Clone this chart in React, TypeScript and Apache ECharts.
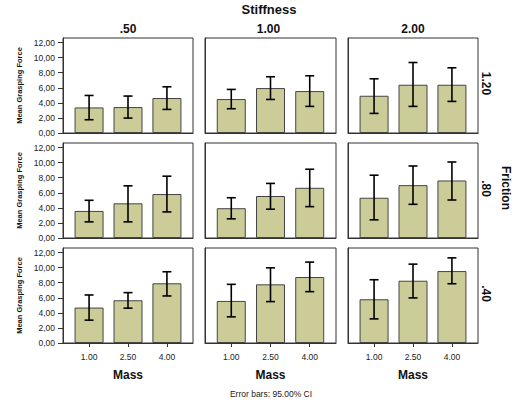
import React, { useEffect, useRef } from "react";
import * as echarts from "echarts";

const massLabels = ["1.00", "2.50", "4.00"];
const stiffnessLabels = [".50", "1.00", "2.00"];
const frictionLabels = ["1.20", ".80", ".40"];
const yTicks = [0, 2, 4, 6, 8, 10, 12];

// means[frictionRow][stiffnessCol][mass]
const means = [
  [[3.39, 3.44, 4.64], [4.5, 5.96, 5.56], [4.94, 6.4, 6.4]],
  [[3.59, 4.6, 5.83], [3.95, 5.57, 6.66], [5.34, 7.01, 7.63]],
  [[4.7, 5.67, 7.92], [5.58, 7.78, 8.75], [5.8, 8.26, 9.54]],
];
const lower = [
  [[1.76, 1.98, 3.13], [3.22, 4.45, 3.53], [2.6, 3.53, 4.19]],
  [[2.14, 2.14, 3.46], [2.54, 3.82, 4.16], [2.41, 4.47, 5.04]],
  [[3.03, 4.62, 6.24], [3.47, 5.49, 6.81], [3.2, 5.98, 7.86]],
];
const upper = [
  [[4.98, 4.9, 6.13], [5.78, 7.46, 7.59], [7.19, 9.35, 8.65]],
  [[5.0, 6.92, 8.2], [5.34, 7.24, 9.12], [8.33, 9.55, 10.08]],
  [[6.37, 6.68, 9.45], [7.78, 9.97, 10.73], [8.39, 10.46, 11.29]],
];

const FONT = "'Liberation Sans', Arial, sans-serif";
const colLeft = [63, 205, 348];
const colWidth = [130, 131, 130];
const rowTop = [38, 143, 248];
const rowHeight = 95;

export default function App() {
  const ref = useRef<HTMLDivElement>(null);
  useEffect(() => {
    if (!ref.current) return;
    const chart = echarts.init(ref.current, null, { renderer: "svg" });
    const grids: any[] = [];
    const xAxes: any[] = [];
    const yAxes: any[] = [];
    const series: any[] = [];
    let idx = 0;
    for (let r = 0; r < 3; r++) {
      for (let c = 0; c < 3; c++) {
        grids.push({
          left: colLeft[c],
          top: rowTop[r],
          width: colWidth[c],
          height: rowHeight,
          show: true,
          borderColor: "#333",
          borderWidth: 1,
          backgroundColor: "#fff",
          containLabel: false,
        });
        const bottom = r === 2;
        xAxes.push({
          type: "value",
          gridIndex: idx,
          min: 0.33,
          max: 3.67,
          axisLine: { show: true, lineStyle: { color: "#333", width: 1 } },
          axisTick: {
            show: bottom,
            customValues: [1, 2, 3],
            length: 4,
            lineStyle: { color: "#333" },
          },
          axisLabel: {
            show: bottom,
            customValues: [1, 2, 3],
            formatter: (v: number) => massLabels[Math.round(v) - 1] ?? "",
            fontFamily: FONT,
            fontSize: 8.5,
            color: "#222",
            margin: 9,
          },
          splitLine: { show: false },
          name: bottom ? "Mass" : "",
          nameLocation: "middle",
          nameGap: 26,
          nameTextStyle: { fontFamily: FONT, fontSize: 12, fontWeight: "bold", color: "#111" },
        });
        const first = c === 0;
        yAxes.push({
          type: "value",
          gridIndex: idx,
          min: 0,
          max: 12.6,
          axisLine: { show: true, lineStyle: { color: "#333", width: 1 } },
          axisTick: {
            show: first,
            customValues: yTicks,
            length: 5,
            lineStyle: { color: "#333" },
          },
          axisLabel: {
            show: first,
            customValues: yTicks,
            formatter: (v: number) => v.toFixed(2).replace(".", ","),
            fontFamily: FONT,
            fontSize: 8.5,
            color: "#222",
            margin: 8,
          },
          splitLine: { show: false },
          name: first ? "Mean Grasping Force" : "",
          nameLocation: "middle",
          nameGap: 40,
          nameTextStyle: { fontFamily: FONT, fontSize: 7.5, fontWeight: "bold", color: "#111" },
        });
        series.push({
          type: "bar",
          xAxisIndex: idx,
          yAxisIndex: idx,
          barWidth: 29,
          data: means[r][c].map((v, i) => [i + 1, v]),
          itemStyle: { color: "#cccc99", borderColor: "#444", borderWidth: 1 },
          silent: true,
        });
        series.push({
          type: "custom",
          xAxisIndex: idx,
          yAxisIndex: idx,
          data: means[r][c].map((_, i) => [i + 1, lower[r][c][i], upper[r][c][i]]),
          encode: { x: 0, y: [1, 2] },
          z: 10,
          silent: true,
          renderItem: (params: any, api: any) => {
            const x = api.value(0);
            const lo = api.coord([x, api.value(1)]);
            const hi = api.coord([x, api.value(2)]);
            const hw = 4.5;
            const style = { stroke: "#000", lineWidth: 1.6 };
            return {
              type: "group",
              children: [
                { type: "line", shape: { x1: hi[0], y1: hi[1], x2: lo[0], y2: lo[1] }, style },
                { type: "line", shape: { x1: hi[0] - hw, y1: hi[1], x2: hi[0] + hw, y2: hi[1] }, style },
                { type: "line", shape: { x1: lo[0] - hw, y1: lo[1], x2: lo[0] + hw, y2: lo[1] }, style },
              ],
            };
          },
        });
        idx++;
      }
    }

    const bold12 = { fontFamily: FONT, fontSize: 12, fontWeight: "bold", fill: "#111" };
    const graphic: any[] = [
      {
        type: "text",
        x: 269,
        y: 9,
        style: { ...bold12, fontSize: 13, text: "Stiffness", textAlign: "center", textVerticalAlign: "middle" },
      },
      {
        type: "text",
        x: 271,
        y: 394,
        style: {
          fontFamily: FONT,
          fontSize: 8.5,
          fill: "#222",
          text: "Error bars: 95.00% CI",
          textAlign: "center",
          textVerticalAlign: "middle",
        },
      },
      {
        type: "text",
        x: 506,
        y: 188,
        rotation: -Math.PI / 2,
        style: { ...bold12, text: "Friction", textAlign: "center", textVerticalAlign: "middle" },
      },
    ];
    stiffnessLabels.forEach((s, c) => {
      graphic.push({
        type: "text",
        x: colLeft[c] + colWidth[c] / 2 - (c === 1 ? 2 : 0),
        y: 29,
        style: { ...bold12, text: s, textAlign: "center", textVerticalAlign: "middle" },
      });
    });
    frictionLabels.forEach((f, r) => {
      graphic.push({
        type: "text",
        x: 486,
        y: rowTop[r] + rowHeight / 2 - 2,
        rotation: -Math.PI / 2,
        style: { ...bold12, text: f, textAlign: "center", textVerticalAlign: "middle" },
      });
    });

    chart.setOption({
      animation: false,
      backgroundColor: "#fff",
      grid: grids,
      xAxis: xAxes,
      yAxis: yAxes,
      series,
      graphic,
    });
    return () => chart.dispose();
  }, []);
  return (
    <div
      ref={ref}
      style={{ position: "fixed", left: 0, top: 0, width: 517, height: 403 }}
    />
  );
}
